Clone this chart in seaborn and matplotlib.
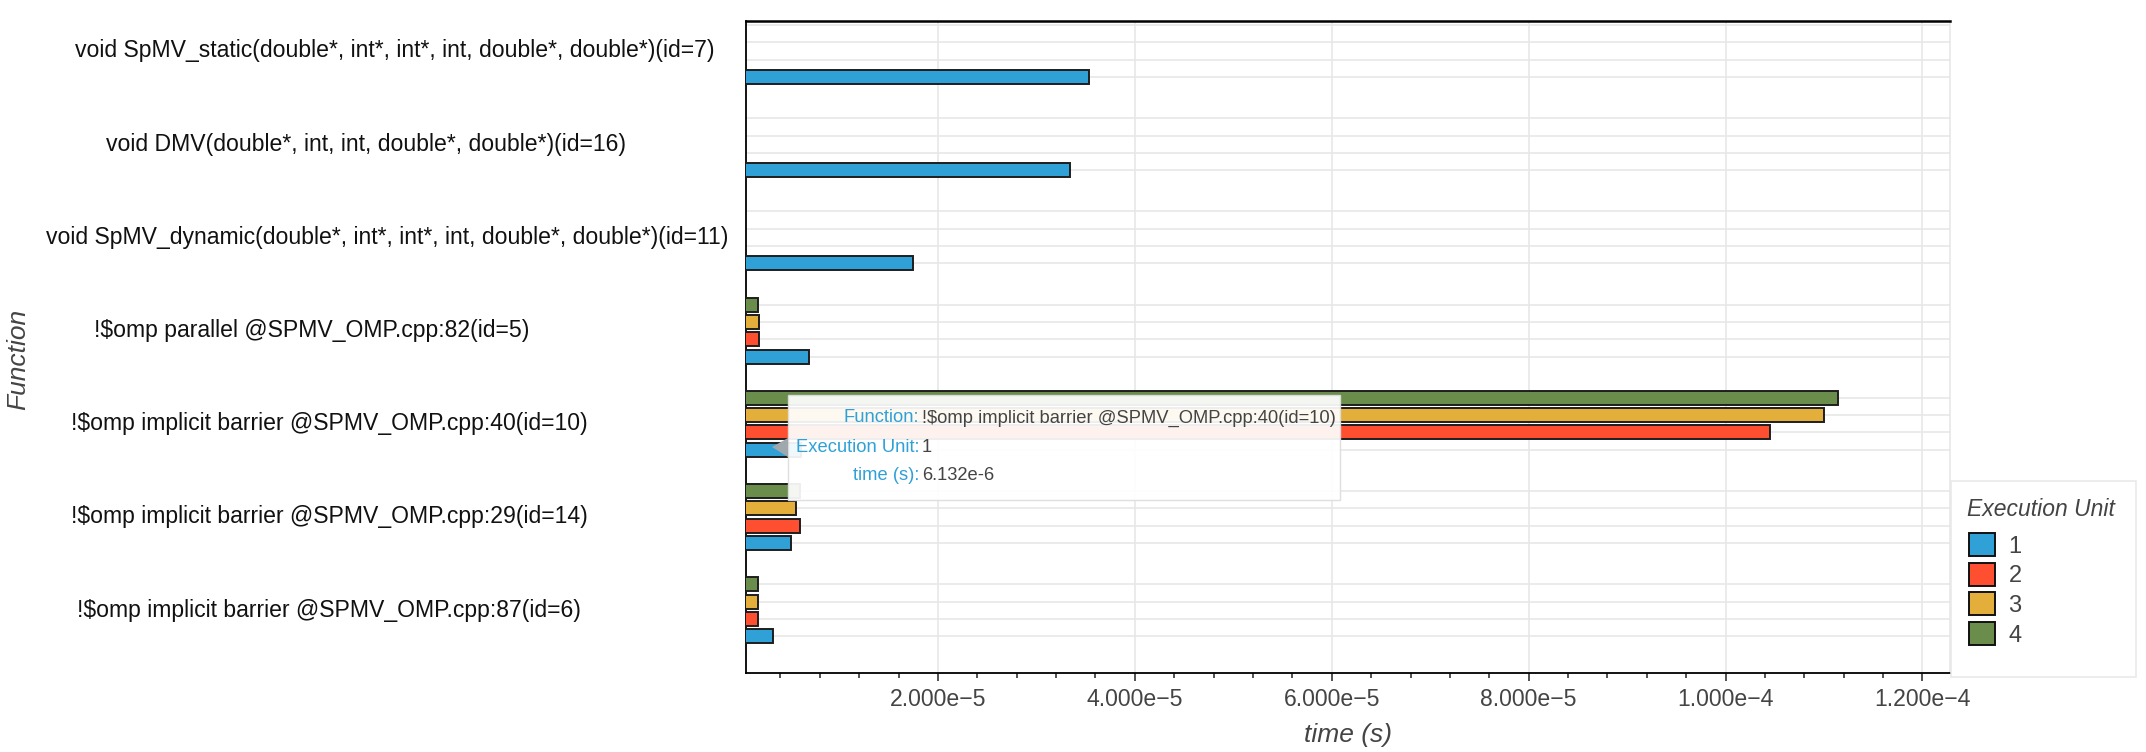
import numpy as np
import pandas as pd
import seaborn as sns
import matplotlib.pyplot as plt
from matplotlib.ticker import MultipleLocator, FuncFormatter
from matplotlib.patches import Rectangle, Polygon, Patch

# data
FUNCTIONS = [
    "void SpMV_static(double*, int*, int*, int, double*, double*)(id=7)",
    "void DMV(double*, int, int, double*, double*)(id=16)",
    "void SpMV_dynamic(double*, int*, int*, int, double*, double*)(id=11)",
    "!$omp parallel @SPMV_OMP.cpp:82(id=5)",
    "!$omp implicit barrier @SPMV_OMP.cpp:40(id=10)",
    "!$omp implicit barrier @SPMV_OMP.cpp:29(id=14)",
    "!$omp implicit barrier @SPMV_OMP.cpp:87(id=6)",
]
UNITS = ["1", "2", "3", "4"]
TIME_UNIT1 = [3.53e-5, 3.345e-5, 1.745e-5, 0.694e-5, 0.6132e-5, 0.508e-5, 0.326e-5]
TIME_UNIT2 = [np.nan, np.nan, np.nan, 0.177e-5, 10.45e-5, 0.602e-5, 0.174e-5]
TIME_UNIT3 = [np.nan, np.nan, np.nan, 0.186e-5, 11.00e-5, 0.559e-5, 0.174e-5]
TIME_UNIT4 = [np.nan, np.nan, np.nan, 0.172e-5, 11.14e-5, 0.597e-5, 0.172e-5]

# hover box shown in the screenshot (function index, unit index)
HOVER_FUNC = 4
HOVER_UNIT = 0

PALETTE = {"1": "#2fa1d7", "2": "#fe5030", "3": "#e4ae3b", "4": "#6a8d4b"}

# layout (pixels of the 2146x752 picture)
W, H = 2146, 752
AX_L, AX_R, AX_T, AX_B = 746, 1950, 20.5, 673
LABEL_CENTER_PX = [395, 366, 387, 312, 329, 329, 329]
BAND = 0.742
FONT = ["Liberation Sans", "DejaVu Sans"]


def fx(px):
    return px / W


def fy(py):
    return 1 - py / H


def sci(v, _pos=None):
    m, e = f"{v:.3e}".split("e")
    return f"{m}e\u2212{abs(int(e))}"


rows = []
for vals, unit in zip([TIME_UNIT1, TIME_UNIT2, TIME_UNIT3, TIME_UNIT4], UNITS):
    for func, v in zip(FUNCTIONS, vals):
        if not np.isnan(v):
            rows.append({"Function": func, "unit": unit, "time": v})
df = pd.DataFrame(rows)

sns.set_theme(style="white")
plt.rcParams["font.family"] = FONT

fig = plt.figure(figsize=(W / 100, H / 100), dpi=100)
ax = fig.add_axes([fx(AX_L), fy(AX_B), (AX_R - AX_L) / W, (AX_B - AX_T) / H])

sns.barplot(
    data=df, y="Function", x="time", hue="unit",
    order=FUNCTIONS, hue_order=UNITS[::-1], palette=PALETTE, saturation=1,
    orient="h", width=BAND, gap=0.19, errorbar=None, legend=False,
    edgecolor="#1e1e1e", linewidth=1.4, ax=ax, zorder=3,
)

ax.set_xlim(0.05e-5, 12.28e-5)
ax.set_ylim(6.674, -0.327)

# x axis
ax.xaxis.set_major_locator(MultipleLocator(2e-5))
ax.xaxis.set_minor_locator(MultipleLocator(0.4e-5))
ax.xaxis.set_major_formatter(FuncFormatter(sci))
ax.tick_params(axis="x", which="major", bottom=True, length=6, width=1.1,
               color="#222", labelsize=16.6, labelcolor="#444", pad=4.5)
ax.tick_params(axis="x", which="minor", bottom=True, length=3.6, width=1.1, color="#222")

# y axis: one grid line per bar slot, labels drawn as text
slots = []
for i in range(len(FUNCTIONS)):
    for k in range(4):
        slots.append(i + (k - 1.5) * BAND / 4)
ax.set_yticks(range(len(FUNCTIONS)))
ax.set_yticklabels([])
ax.set_yticks(slots, minor=True)
ax.tick_params(axis="y", which="both", length=0)

ax.set_axisbelow(True)
ax.grid(False)
ax.grid(axis="x", which="major", color="#e6e6e6", lw=1.1)
ax.grid(axis="y", which="minor", color="#e6e6e6", lw=1.1)

for i, name in enumerate(FUNCTIONS):
    ax.text((LABEL_CENTER_PX[i] - AX_L) / (AX_R - AX_L), i, name,
            transform=ax.get_yaxis_transform(), ha="center", va="center",
            fontsize=16.6, color="#111")

for side in ["left", "bottom", "top"]:
    ax.spines[side].set_color("black")
    ax.spines[side].set_visible(True)
ax.spines["top"].set_linewidth(1.8)
ax.spines["left"].set_linewidth(1.3)
ax.spines["bottom"].set_linewidth(1.3)
ax.spines["right"].set_visible(True)
ax.spines["right"].set_color("#e6e6e6")
ax.spines["right"].set_linewidth(1.1)

ax.set_xlabel("time (s)", fontsize=19, style="italic", color="#444")
ax.set_ylabel("Function", fontsize=19, style="italic", color="#444")
ax.xaxis.set_label_coords(0.5, -0.076)
ax.yaxis.set_label_coords((18 - AX_L) / (AX_R - AX_L), 0.48)
ax.yaxis.label.set_verticalalignment("center")

# legend: frame and title drawn separately so the spacing can match
fig.patches.append(Rectangle((fx(1951), fy(677)), (2136 - 1951) / W, (677 - 481) / H,
                             transform=fig.transFigure, facecolor="white",
                             edgecolor="#e8e8e8", linewidth=1.1, zorder=1))
fig.text(fx(1967), fy(509), "Execution Unit", ha="left", va="center", fontsize=16.5,
         style="italic", color="#444", zorder=2)
handles = [Patch(facecolor=PALETTE[u], edgecolor="#111", linewidth=1.4) for u in UNITS]
leg = fig.legend(
    handles, UNITS, loc="upper left",
    bbox_to_anchor=(fx(1969), fy(533)), borderaxespad=0, frameon=False,
    fontsize=17, handlelength=1.12, handleheight=1.12,
    labelspacing=0.22, handletextpad=0.55, borderpad=0,
)
leg.set_zorder(2)
for t in leg.get_texts():
    t.set_color("#444")

# hover label
tip_l, tip_r, tip_t, tip_b = 788, 1340, 395, 500
fig.patches.append(Rectangle((fx(tip_l), fy(tip_b)), (tip_r - tip_l) / W, (tip_b - tip_t) / H,
                             transform=fig.transFigure, facecolor="white", alpha=0.93,
                             edgecolor="#dddddd", linewidth=1.0, zorder=10))
fig.patches.append(Polygon([(fx(772), fy(447)), (fx(tip_l), fy(438)), (fx(tip_l), fy(457))],
                           closed=True, transform=fig.transFigure, facecolor="#a0a8ad",
                           edgecolor="none", zorder=10))
tip_val = TIME_UNIT1[HOVER_FUNC]
m, e = f"{tip_val:.3e}".split("e")
tip_rows = [("Function:", FUNCTIONS[HOVER_FUNC], 418),
            ("Execution Unit:", UNITS[HOVER_UNIT], 447),
            ("time (s):", f"{m}e-{abs(int(e))}", 476)]
for lab, val, yy in tip_rows:
    fig.text(fx(919), fy(yy), lab, ha="right", va="center", fontsize=13.2,
             color=PALETTE["1"], zorder=11)
    fig.text(fx(922), fy(yy), val, ha="left", va="center", fontsize=13.2,
             color="#444", zorder=11)

fig.savefig("out.png", dpi=100, facecolor="white")
